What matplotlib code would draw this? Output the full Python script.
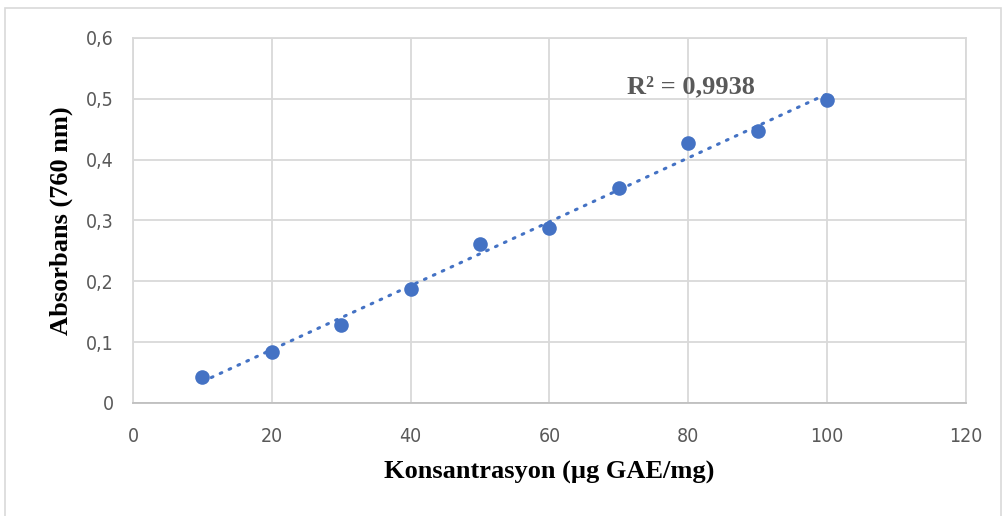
import matplotlib
matplotlib.use("Agg")
import matplotlib.pyplot as plt
import numpy as np
from matplotlib.patches import Rectangle

# Kalibrasyon verisi (gallik asit)
konsantrasyon = [10, 20, 30, 40, 50, 60, 70, 80, 90, 100]
absorbans = [0.042, 0.084, 0.128, 0.187, 0.261, 0.288, 0.353, 0.428, 0.447, 0.498]
x_ticks = [0, 20, 40, 60, 80, 100, 120]
y_ticks = [0, 0.1, 0.2, 0.3, 0.4, 0.5, 0.6]
y_tick_labels = ["0", "0,1", "0,2", "0,3", "0,4", "0,5", "0,6"]
r2_text = "R² = 0,9938"

BLUE = "#4472C4"
GRID = "#D9D9D9"
TEXT_GRAY = "#595959"
TICK_FONT = ["DejaVu Sans"]
TITLE_FONT = ["Liberation Serif", "DejaVu Serif"]

fig = plt.figure(figsize=(10.06, 5.16), dpi=100)
ax = fig.add_axes([0.1322, 0.219, 0.828, 0.7074])

# Doğrusal trend çizgisi
x = np.array(konsantrasyon)
y = np.array(absorbans)
slope, intercept = np.polyfit(x, y, 1)
ax.plot(x, slope * x + intercept, color=BLUE, linewidth=2.2,
        linestyle=(0, (0.6, 2.6)), dash_capstyle="round", zorder=2)

ax.plot(konsantrasyon, absorbans, "o", color=BLUE, markersize=10.5,
        markeredgewidth=0, zorder=3)

ax.text(80.4, 0.519, r2_text, ha="center", va="center", fontsize=19,
        fontweight="bold", color=TEXT_GRAY, family=TITLE_FONT)

ax.set_xlim(0, 120)
ax.set_ylim(0, 0.6)
ax.set_xticks(x_ticks)
ax.set_yticks(y_ticks)
ax.set_yticklabels(y_tick_labels)
ax.tick_params(length=0, labelsize=14, labelcolor=TEXT_GRAY)
ax.tick_params(axis="x", pad=17)
ax.tick_params(axis="y", pad=14)
for lbl in ax.get_xticklabels() + ax.get_yticklabels():
    lbl.set_family(TICK_FONT)
    lbl.set_fontstretch("condensed")

ax.grid(True, color=GRID, linewidth=1.3, zorder=0)
ax.set_axisbelow(True)
for side in ["top", "right", "left"]:
    ax.spines[side].set_color(GRID)
    ax.spines[side].set_linewidth(1.3)
ax.spines["bottom"].set_color("#BFBFBF")
ax.spines["bottom"].set_linewidth(1.3)

ax.set_xlabel("Konsantrasyon (µg GAE/mg)", fontsize=19, fontweight="bold",
              family=TITLE_FONT, labelpad=11)
ax.set_ylabel("Absorbans (760 nm)", fontsize=19, fontweight="bold",
              family=TITLE_FONT, labelpad=9)

# Grafik alanı çerçevesi
fig.patches.append(Rectangle((0.005, -0.01), 0.99, 0.995, transform=fig.transFigure,
                             fill=False, edgecolor=GRID, linewidth=1.2))

fig.savefig("out.png", dpi=100)
